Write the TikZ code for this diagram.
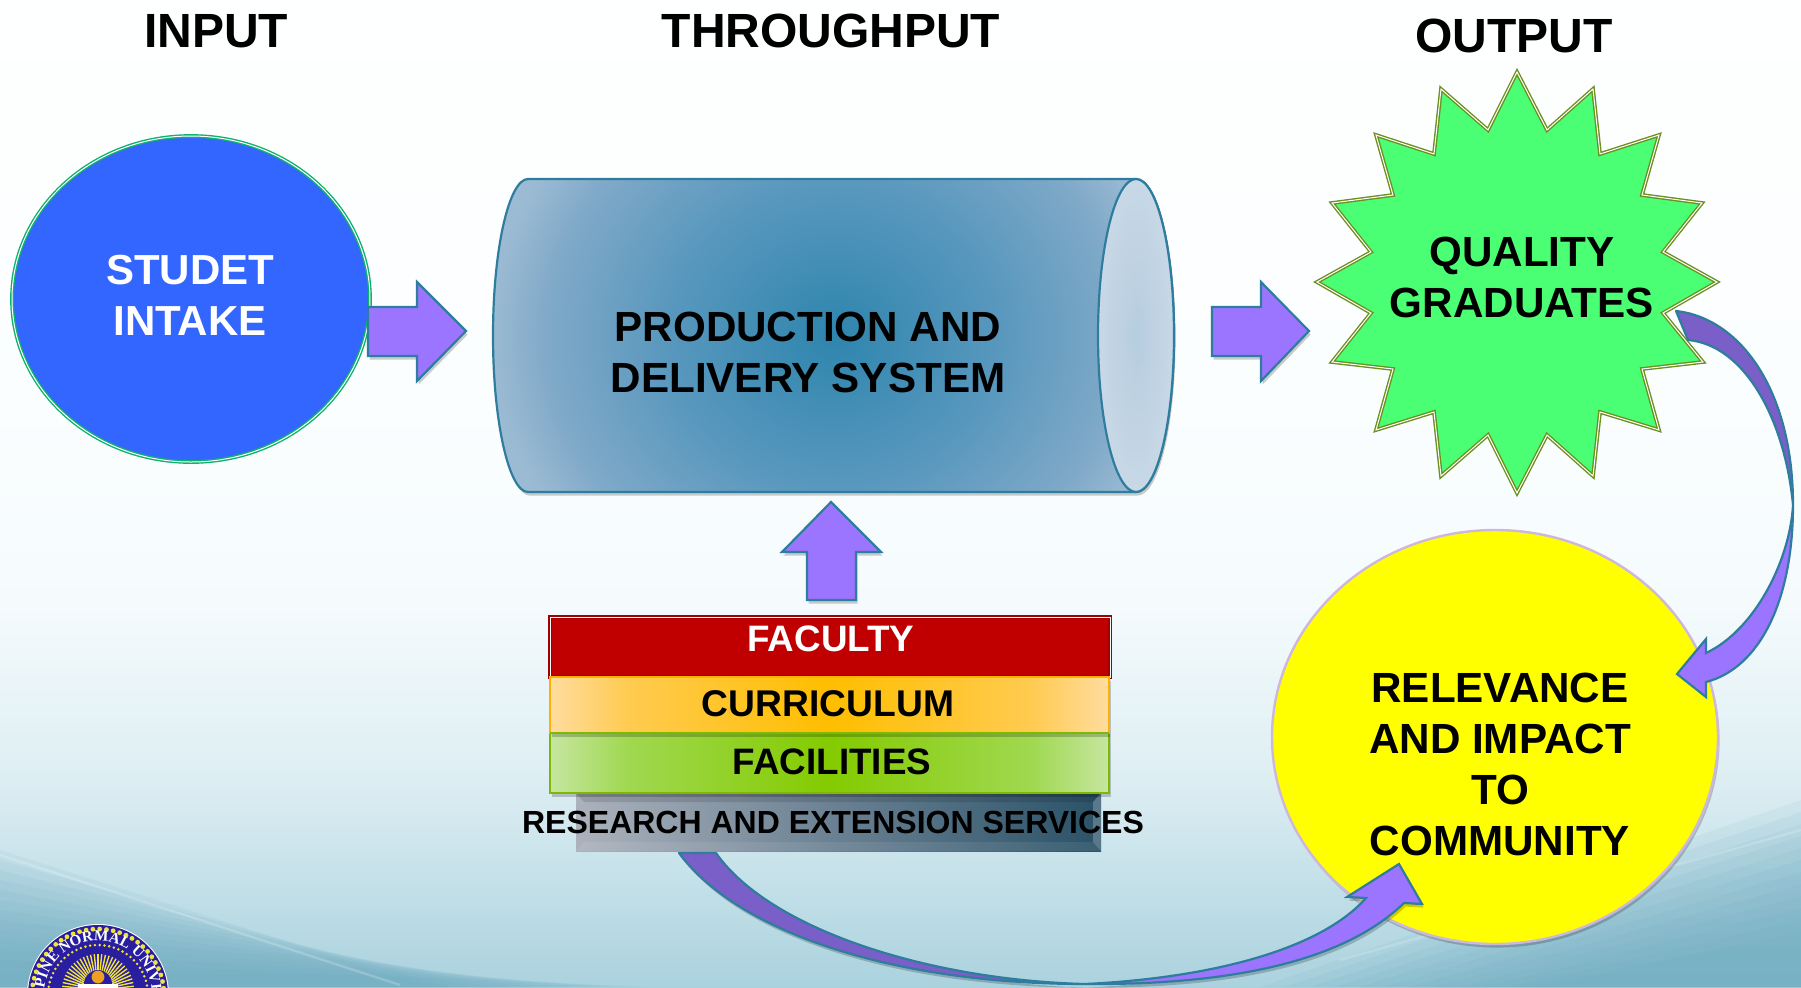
\documentclass[tikz,border=0pt]{standalone}
\usepackage{fontspec}
\setmainfont{Liberation Sans}
\newfontfamily\sealfont{Liberation Serif}
\usetikzlibrary{decorations.text}
\definecolor{edgeteal}{HTML}{2E7D9E}
\definecolor{arrowviolet}{HTML}{9B74FF}
\definecolor{arrowdark}{HTML}{7B5FC8}
\definecolor{blueball}{HTML}{3366FF}
\definecolor{ballrim}{HTML}{10B070}
\definecolor{stargreen}{HTML}{4BFF74}
\definecolor{starrim}{HTML}{6B9020}
\definecolor{yellowrim}{HTML}{CDB8DC}
\definecolor{ballyellow}{rgb}{1,1,0}
\definecolor{facred}{HTML}{C00000}
\definecolor{facrim}{HTML}{A00000}
\definecolor{currim}{HTML}{FFB000}
\definecolor{facirim}{HTML}{7FB800}
\definecolor{sealblue}{HTML}{2A1EA0}
\definecolor{sealyellow}{HTML}{EFE23A}
\definecolor{sealorange}{HTML}{F0A020}
\definecolor{wave}{HTML}{64A5BC}
\definecolor{endin}{HTML}{B6CDE0}
\definecolor{endout}{HTML}{C8D8E6}
\pgfdeclareverticalshading{bgshade}{100bp}{
 rgb(0bp)=(0.667,0.824,0.871);
 rgb(25bp)=(0.667,0.824,0.871);
 rgb(35.5bp)=(0.867,0.933,0.953);
 rgb(44.5bp)=(0.961,0.984,0.992);
 rgb(55bp)=(0.984,0.996,1);
 rgb(75bp)=(0.996,1,1);
 rgb(100bp)=(0.996,1,1)}
\pgfdeclarehorizontalshading{curshade}{100bp}{
 rgb(0bp)=(1,0.863,0.627);
 rgb(25bp)=(1,0.863,0.627);
 rgb(32bp)=(1,0.796,0.314);
 rgb(50bp)=(1,0.745,0);
 rgb(68bp)=(1,0.796,0.314);
 rgb(75bp)=(1,0.863,0.627);
 rgb(100bp)=(1,0.863,0.627)}
\pgfdeclarehorizontalshading{facishade}{100bp}{
 rgb(0bp)=(0.773,0.902,0.627);
 rgb(25bp)=(0.773,0.902,0.627);
 rgb(32bp)=(0.627,0.847,0.314);
 rgb(50bp)=(0.518,0.796,0);
 rgb(68bp)=(0.627,0.847,0.314);
 rgb(75bp)=(0.773,0.902,0.627);
 rgb(100bp)=(0.773,0.902,0.627)}
\pgfdeclarehorizontalshading{resshade}{100bp}{
 rgb(0bp)=(0.675,0.698,0.737);
 rgb(25bp)=(0.675,0.698,0.737);
 rgb(50bp)=(0.412,0.502,0.573);
 rgb(75bp)=(0.165,0.322,0.408);
 rgb(100bp)=(0.165,0.322,0.408)}
\pgfdeclareradialshading{cylshade}{\pgfpoint{0bp}{0bp}}{
 rgb(0bp)=(0.18,0.522,0.682);
 rgb(12.5bp)=(0.353,0.596,0.745);
 rgb(21bp)=(0.5,0.663,0.784);
 rgb(25bp)=(0.604,0.729,0.827);
 rgb(35.4bp)=(0.667,0.773,0.859);
 rgb(50bp)=(0.667,0.773,0.859)}
\tikzset{
 softsh/.style={preaction={fill=black,fill opacity=.2,draw=none,transform canvas={xshift=.8pt,yshift=-1.8pt}}},
 blockarrow/.style={draw=edgeteal,line width=1.1pt,fill=arrowviolet,line join=miter,softsh},
 bendlight/.style={draw=edgeteal,line width=1.1pt,fill=arrowviolet,line join=miter},
 benddark/.style={draw=edgeteal,line width=1.1pt,fill=arrowdark,line join=round},
 lbl/.style={inner sep=0pt,align=center,font=\bfseries},
 title/.style={lbl,font=\bfseries\fontsize{24pt}{28pt}\selectfont},
 big/.style={lbl,font=\bfseries\fontsize{21.1pt}{25.5pt}\selectfont},
 bar/.style={lbl,font=\bfseries\fontsize{18.4pt}{21pt}\selectfont},
}
\begin{document}
\begin{tikzpicture}[x=0.5pt,y=-0.5pt]
\useasboundingbox (0,0) rectangle (1801,987);
\clip (0,0) rectangle (1801,987);
% background
\shade[shading=bgshade] (0,0) rectangle (1801,987);
\foreach \d in {0,10,...,110}{
 \fill[wave,opacity=.085] (0,850+\d) -- (430+\d*2,987) -- (0,987) -- cycle;
 \fill[wave,opacity=.085] (1801,800+\d*1.2) -- (1801,987) -- (1260+\d*2.5,987) -- cycle;
}
\draw[white,opacity=.2,line width=1.2pt] (0,855) -- (400,985);
\draw[white,opacity=.18,line width=1.2pt] (1340,960) -- (1801,830);
% seal
\fill[white] (98,995) circle[radius=35.5pt];
\fill[sealblue] (98,995) circle[radius=35pt];
\draw[sealyellow,line width=2.4pt,line cap=round,dash pattern=on 0pt off 3.4pt] (98,995) circle[radius=33pt];
\draw[sealyellow,line width=1.4pt,line cap=round,dash pattern=on 0pt off 2.4pt] (98,995) circle[radius=25pt];
\foreach \a in {0,6,...,180}{\draw[sealyellow,line width=.7pt] (98,990) -- ++(\a:18pt);}
\fill[sealblue] (98,984) circle[radius=7pt];
\fill[sealorange] (98,977) circle[radius=3.2pt];
\fill[white] (78,984) rectangle (118,990);
\path[decorate,decoration={text along path,text align=center,
 text={|\sealfont\bfseries\fontsize{7.6pt}{9pt}\selectfont\color{white}|PHILIPPINE NORMAL UNIVERSITY}}]
 ([shift={(260:27pt)}]98,995) arc[start angle=260,end angle=-80,radius=27pt];
% titles
\node[title] (ttlin) at (216,31) {INPUT};
\node[title] (ttlthru) at (831,31) {THROUGHPUT};
\node[title] (ttlout) at (1514,36) {OUTPUT};
% input circle
\draw[draw=ballrim,double=white,double distance=.5pt,line width=.7pt,fill=blueball] (191,299) ellipse[x radius=179,y radius=163];
\node[big,white,font=\bfseries\fontsize{21pt}{25.5pt}\selectfont] (intake) at (190,295) {STUDET\\INTAKE};
\draw[blockarrow] (368,307) -- (417,307) -- (417,282) -- (466,331) -- (417,381) -- (417,356) -- (368,356) -- cycle;
% cylinder
\path[softsh] (528,179) .. controls (509,179) and (493,249) .. (493,335.5) .. controls (493,422) and (509,492) .. (528,492) -- (1136,492) .. controls (1157,492) and (1174,422) .. (1174,335.5) .. controls (1174,249) and (1157,179) .. (1136,179) -- cycle;
\begin{scope}
\clip (528,179) .. controls (509,179) and (493,249) .. (493,335.5) .. controls (493,422) and (509,492) .. (528,492) -- (1136,492) .. controls (1157,492) and (1174,422) .. (1174,335.5) .. controls (1174,249) and (1157,179) .. (1136,179) -- cycle;
\shade[shading=cylshade] (493,30) rectangle (1174,641);
\end{scope}
\draw[edgeteal,line width=1.1pt]
 (528,179) .. controls (509,179) and (493,249) .. (493,335.5) .. controls (493,422) and (509,492) .. (528,492) -- (1136,492) .. controls (1157,492) and (1174,422) .. (1174,335.5) .. controls (1174,249) and (1157,179) .. (1136,179) -- cycle;
\shadedraw[draw=edgeteal,line width=1.1pt,inner color=endin,outer color=endout] (1136,335.5) ellipse[x radius=38,y radius=156.5];
\node[big] (pds) at (808,352) {PRODUCTION AND\\DELIVERY SYSTEM};
\draw[blockarrow] (1212,307) -- (1261,307) -- (1261,282) -- (1309,331) -- (1261,381) -- (1261,356) -- (1212,356) -- cycle;
\draw[blockarrow] (831,502) -- (881,552) -- (856,552) -- (856,600) -- (807,600) -- (807,552) -- (782,552) -- cycle;
% star
\draw[draw=starrim,double=white,double distance=.5pt,line width=.7pt,fill=stargreen,line join=miter]
 (1517,72) -- (1547,130) -- (1593,89) -- (1600,154) -- (1659,135) -- (1642,195) -- (1702,203) -- (1663,252) -- (1717,282) -- (1663,313) -- (1703,362) -- (1642,369) -- (1659,430) -- (1600,412) -- (1593,476) -- (1547,435) -- (1517,493) -- (1488,435) -- (1441,476) -- (1434,412) -- (1376,430) -- (1393,369) -- (1332,362) -- (1371,313) -- (1317,282) -- (1371,252) -- (1332,203) -- (1393,195) -- (1376,135) -- (1434,154) -- (1441,89) -- (1488,130) -- cycle;
\node[big] (grad) at (1522,277) {QUALITY\\GRADUATES};
% yellow circle
\draw[yellowrim,line width=1.2pt,fill=ballyellow,softsh] (1495,737) ellipse[x radius=223,y radius=207];
\node[big] (relev) at (1500,764) {RELEVANCE\\AND IMPACT\\TO\\COMMUNITY};
% bent arrow from graduates to community
\draw[benddark] (1676,311) .. controls (1740,318) and (1793,390) .. (1793,505) .. controls (1785,420) and (1745,345) .. (1688,340) -- cycle;
\draw[bendlight] (1793,505) .. controls (1793,600) and (1760,668) .. (1706,682) -- (1706,697) -- (1677,674) -- (1706,639) -- (1706,653) .. controls (1755,630) and (1790,560) .. (1793,505) -- cycle;
% bent arrow from research to community
\draw[benddark,softsh] (679,853) .. controls (740,935) and (900,984) .. (1085,984) .. controls (930,980) and (770,930) .. (716,853) -- cycle;
\draw[bendlight,softsh] (1085,984) .. controls (1220,985) and (1340,965) .. (1404,903) -- (1422,904) -- (1399,864) -- (1347,897) -- (1366,898) .. controls (1320,950) and (1210,978) .. (1085,984) -- cycle;
% bars
\draw[facrim,line width=1pt,double=white,double distance=.4pt,fill=facred] (550,617) rectangle (1110,677);
\node[bar,white] (fac) at (831,639) {FACULTY};
\shade[shading=resshade] (576,793) rectangle (1101,851);
\fill[black,opacity=.12] (576,793) -- (1101,793) -- (1093,802) -- (584,802) -- cycle;
\fill[white,opacity=.08] (576,851) -- (1101,851) -- (1093,842) -- (584,842) -- cycle;
\fill[white,opacity=.22] (1101,793) -- (1101,851) -- (1093,842) -- (1093,802) -- cycle;
\path[softsh] (550,733) rectangle (1109,793);
\shade[shading=facishade] (550,733) rectangle (1109,793);
\draw[facirim,line width=1.1pt] (550,733) rectangle (1109,793);
\path[softsh] (550,677) rectangle (1109,733);
\shade[shading=curshade] (550,677) rectangle (1109,733);
\draw[currim,line width=1.1pt] (550,677) rectangle (1109,733);
\draw[facirim,line width=1.1pt] (550,733) -- (1109,733);
\node[bar,font=\bfseries\fontsize{18.6pt}{21pt}\selectfont] (cur) at (828,704) {CURRICULUM};
\node[bar] (faci) at (832,762) {FACILITIES};
\node[lbl,font=\bfseries\fontsize{16pt}{19pt}\selectfont] (res) at (833,822) {RESEARCH AND EXTENSION SERVICES};
\end{tikzpicture}
\end{document}
